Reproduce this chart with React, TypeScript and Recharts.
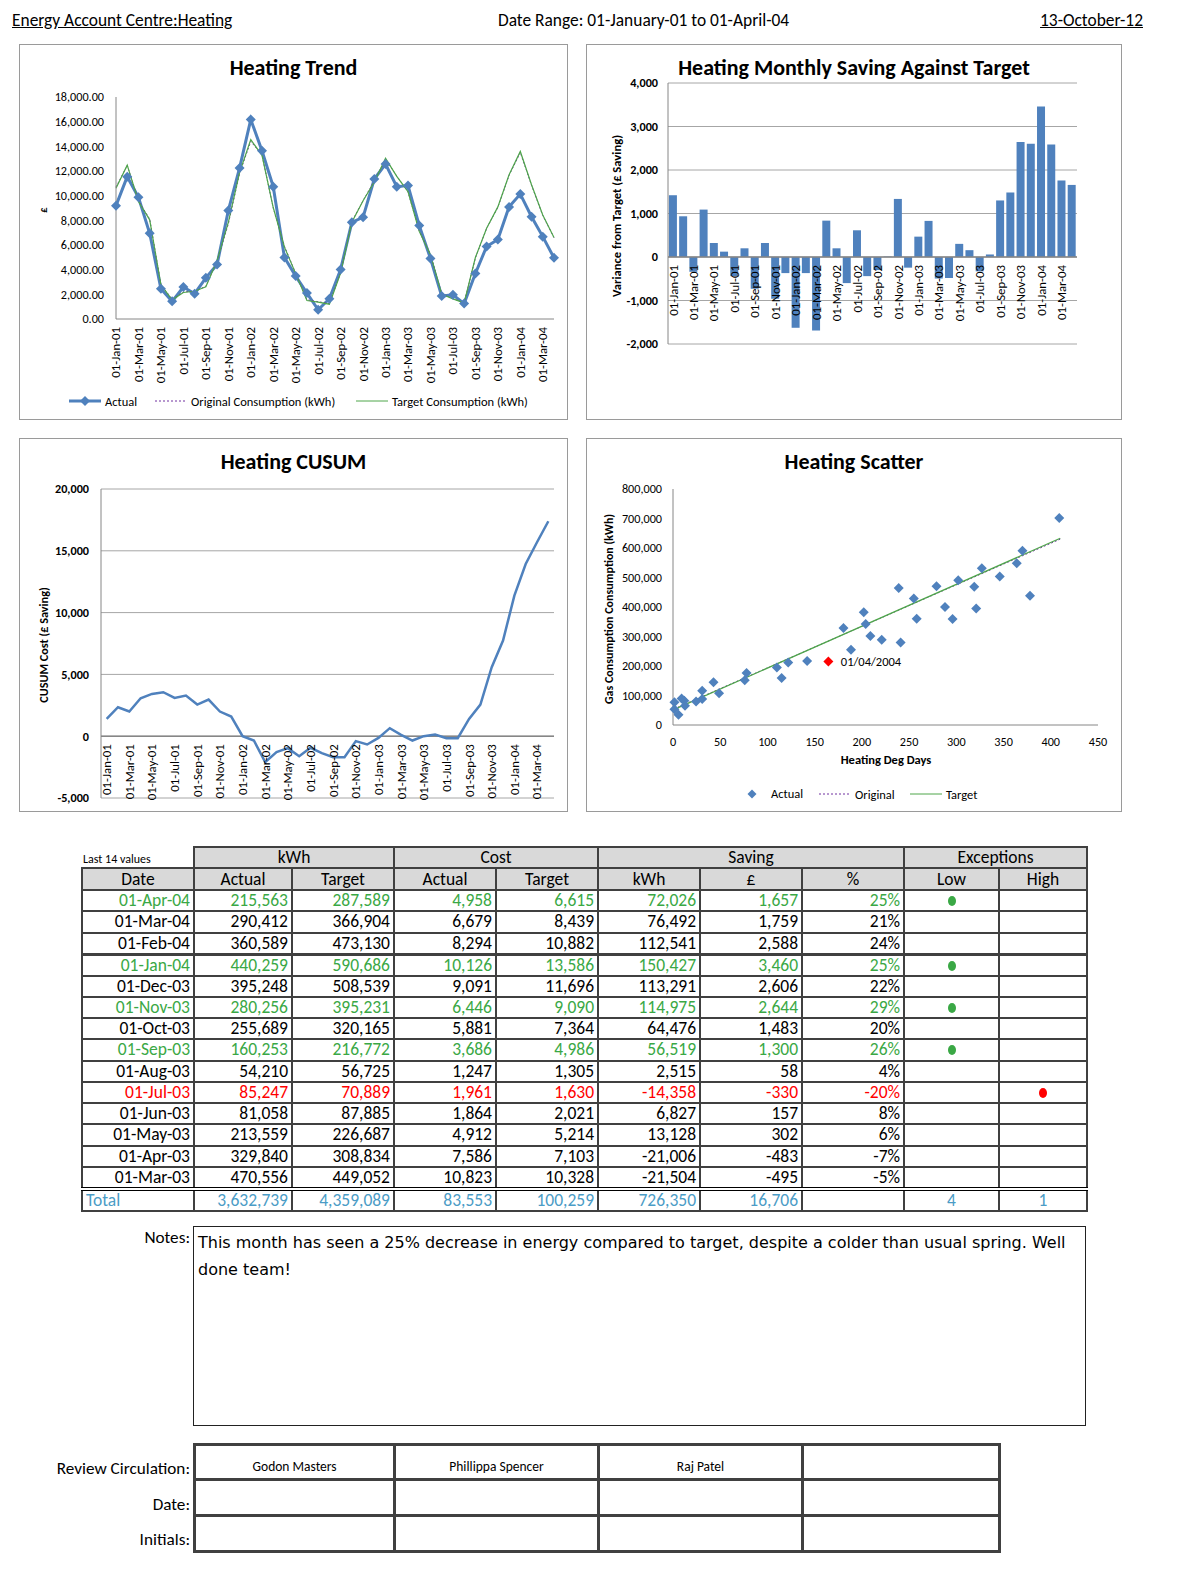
import React from "react";
import {
  LineChart,
  Line,
  BarChart,
  Bar,
  ScatterChart,
  Scatter,
  XAxis,
  YAxis,
  CartesianGrid,
  ReferenceLine,
  LabelList,
} from "recharts";

const FONT = 'Carlito, Calibri, "Liberation Sans Narrow", "Open Sans", sans-serif';
const BLUE = "#4f81bd";
const GREEN = "#4ea64a";
const PURPLE = "#7030a0";
const TXT_GREEN = "#3aa845";
const TXT_RED = "#ff0000";
const TXT_TEAL = "#4b9cc6";
const AXIS = "#868686";
const GRID = "#a6a6a6";

// monthly series, Jan-01 .. Apr-04
const months = [
  "01-Jan-01", "01-Feb-01", "01-Mar-01", "01-Apr-01", "01-May-01", "01-Jun-01",
  "01-Jul-01", "01-Aug-01", "01-Sep-01", "01-Oct-01", "01-Nov-01", "01-Dec-01",
  "01-Jan-02", "01-Feb-02", "01-Mar-02", "01-Apr-02", "01-May-02", "01-Jun-02",
  "01-Jul-02", "01-Aug-02", "01-Sep-02", "01-Oct-02", "01-Nov-02", "01-Dec-02",
  "01-Jan-03", "01-Feb-03", "01-Mar-03", "01-Apr-03", "01-May-03", "01-Jun-03",
  "01-Jul-03", "01-Aug-03", "01-Sep-03", "01-Oct-03", "01-Nov-03", "01-Dec-03",
  "01-Jan-04", "01-Feb-04", "01-Mar-04", "01-Apr-04",
];
const actualCost = [
  9190, 11540, 9870, 6950, 2450, 1430, 2590, 2050, 3340, 4420, 8790, 12240,
  16170, 13640, 10730, 4990, 3480, 2100, 750, 1640, 4020, 7840, 8250, 11350,
  12560, 10730, 10823, 7586, 4912, 1864, 1961, 1247, 3686, 5881, 6446, 9091,
  10126, 8294, 6679, 4958,
];
const originalCost = [
  10700, 12450, 9600, 8100, 2800, 1600, 2200, 2250, 2650, 4700, 7700, 11800,
  14400, 13300, 9000, 5900, 3700, 1550, 1400, 1250, 3750, 7900, 9600, 11200,
  12950, 11600, 10300, 7150, 5250, 2050, 1650, 1300, 4950, 7350, 9050, 11650,
  13500, 10850, 8400, 6600,
];
const targetCost = [
  10610, 12476, 9530, 8040, 2772, 1553, 2150, 2250, 2610, 4742, 7830, 11870,
  14543, 13270, 9040, 5826, 3680, 1500, 1364, 1200, 3720, 7850, 9585, 11105,
  13028, 11560, 10328, 7103, 5214, 2021, 1630, 1305, 4986, 7364, 9090, 11696,
  13586, 10882, 8439, 6615,
];
const monthlySaving = [
  1420, 936, -340, 1090, 322, 123, -440, 200, -730, 322, -960, -370,
  -1627, -370, -1690, 836, 200, -600, 614, -440, -300, 10, 1335, -245,
  468, 830, -495, -483, 302, 157, -330, 58, 1300, 1483, 2644, 2606,
  3460, 2588, 1759, 1657,
];
const cusum = [
  1400, 2345, 1995, 3070, 3420, 3560, 3100, 3290, 2560, 2965, 1995, 1590,
  0, -350, -2100, -1290, -970, -1620, -940, -1375, -1700, -1700, -400, -670,
  -135, 650, 110, -350, 0, 135, -160, -160, 1400, 2560, 5580, 7740,
  11370, 13930, 15690, 17390,
];

const trendTicks = [0, 2000, 4000, 6000, 8000, 10000, 12000, 14000, 16000, 18000];
const savingTicks = [-2000, -1000, 0, 1000, 2000, 3000, 4000];
const cusumTicks = [-5000, 0, 5000, 10000, 15000, 20000];

// scatter: heating degree days vs kWh
const scatterDegDays = [
  1.5, 1.5, 5.8, 9.1, 12, 12.7, 24.4, 30.9, 30.9, 42.9, 48.8, 76, 77.9, 110,
  115, 122, 142, 180.5, 188.5, 202, 204, 209, 221, 239, 241, 255, 258, 279,
  288, 296, 302, 319, 321, 327, 346, 364, 370, 378, 409,
];
const scatterKwh = [
  76800, 53000, 35000, 90000, 82000, 65500, 80000, 116000, 88000, 145000,
  108000, 152000, 176000, 195000, 159000, 212000, 217000, 329000, 255000,
  382000, 342000, 302000, 289000, 464000, 280000, 429000, 360000, 470000,
  400000, 359000, 491000, 469000, 395000, 531000, 503000, 548000, 591000,
  438000, 702000,
];
const latestPoint = [{ x: 164.5, y: 215563, label: "01/04/2004" }];
const originalFit = [{ x: 5, y: 60000 }, { x: 410, y: 630000 }];
const targetFit = [{ x: 5, y: 58000 }, { x: 410, y: 633000 }];
const degTicks = [0, 50, 100, 150, 200, 250, 300, 350, 400, 450];
const kwhTicks = [0, 100000, 200000, 300000, 400000, 500000, 600000, 700000, 800000];

// table, last 14 values
const tblDates = ["01-Apr-04", "01-Mar-04", "01-Feb-04", "01-Jan-04", "01-Dec-03", "01-Nov-03", "01-Oct-03", "01-Sep-03", "01-Aug-03", "01-Jul-03", "01-Jun-03", "01-May-03", "01-Apr-03", "01-Mar-03"];
const tblKwhActual = [215563, 290412, 360589, 440259, 395248, 280256, 255689, 160253, 54210, 85247, 81058, 213559, 329840, 470556];
const tblKwhTarget = [287589, 366904, 473130, 590686, 508539, 395231, 320165, 216772, 56725, 70889, 87885, 226687, 308834, 449052];
const tblCostActual = [4958, 6679, 8294, 10126, 9091, 6446, 5881, 3686, 1247, 1961, 1864, 4912, 7586, 10823];
const tblCostTarget = [6615, 8439, 10882, 13586, 11696, 9090, 7364, 4986, 1305, 1630, 2021, 5214, 7103, 10328];
const tblSaveKwh = [72026, 76492, 112541, 150427, 113291, 114975, 64476, 56519, 2515, -14358, 6827, 13128, -21006, -21504];
const tblSaveGbp = [1657, 1759, 2588, 3460, 2606, 2644, 1483, 1300, 58, -330, 157, 302, -483, -495];
const tblSavePct = [25, 21, 24, 25, 22, 29, 20, 26, 4, -20, 8, 6, -7, -5];
const tblFlag = ["low", "", "", "low", "", "low", "", "low", "", "high", "", "", "", ""];
const tblTotals = ["3,632,739", "4,359,089", "83,553", "100,259", "726,350", "16,706"];
const tblExceptionTotals = ["4", "1"];
const reviewers = ["Godon Masters", "Phillippa Spencer", "Raj Patel", ""];

const trendData = months.map((m, i) => ({
  month: m,
  actual: actualCost[i],
  original: originalCost[i],
  target: targetCost[i],
  saving: monthlySaving[i],
  cusum: cusum[i],
}));
const scatterData = scatterDegDays.map((x, i) => ({ x, y: scatterKwh[i] }));

const fmt = (v: number) => v.toLocaleString("en-US");

const Diamond = ({ cx, cy, r, fill }: any) =>
  cx == null || cy == null ? <g /> : (
    <polygon points={`${cx},${cy - r} ${cx + r},${cy} ${cx},${cy + r} ${cx - r},${cy}`} fill={fill} />
  );

const RotTick = ({ x, y, payload, lift = 0 }: any) => (
  <text
    x={x}
    y={y - lift}
    transform={`rotate(-90 ${x} ${y - lift})`}
    textAnchor="end"
    dy="0.35em"
    fontSize={12.8}
    fill="#000"
  >
    {payload.value}
  </text>
);

const Panel = ({ left, top, width, height, title, children }: any) => (
  <div
    style={{
      position: "absolute",
      left,
      top,
      width,
      height,
      border: "1px solid #9a9a9a",
      boxSizing: "border-box",
      fontFamily: FONT,
    }}
  >
    <div
      style={{
        position: "absolute",
        left: 0,
        right: 0,
        top: 9,
        textAlign: "center",
        fontSize: 22,
        lineHeight: "27px",
        fontWeight: "bold",
      }}
    >
      {title}
    </div>
    {children}
  </div>
);

const VLabel = ({ x, y, text, size = 12.5 }: any) => (
  <div
    style={{
      position: "absolute",
      left: x,
      top: y,
      transform: "translate(-50%, -50%) rotate(-90deg)",
      whiteSpace: "nowrap",
      fontSize: size,
      fontWeight: "bold",
    }}
  >
    {text}
  </div>
);

const LegendItem = ({ x, y, kind, color, text }: any) => (
  <div style={{ position: "absolute", left: x, top: y - 8, height: 16, display: "flex", alignItems: "center", fontSize: 12.5, whiteSpace: "nowrap" }}>
    <svg width={32} height={12} style={{ marginRight: 4 }}>
      {kind === "lineDiamond" && (
        <>
          <line x1={0} y1={6} x2={32} y2={6} stroke={color} strokeWidth={3} />
          <polygon points="16,1 21,6 16,11 11,6" fill={color} />
        </>
      )}
      {kind === "dotted" && <line x1={0} y1={6} x2={32} y2={6} stroke={color} strokeWidth={1} strokeDasharray="2 2" />}
      {kind === "line" && <line x1={0} y1={6} x2={32} y2={6} stroke={color} strokeWidth={1} />}
      {kind === "diamond" && <polygon points="16,1.5 20.5,6 16,10.5 11.5,6" fill={color} />}
    </svg>
    {text}
  </div>
);

function TrendChart() {
  return (
    <Panel left={19} top={44} width={549} height={376} title="Heating Trend">
      <div style={{ position: "absolute", left: 0, top: 0 }}>
        <LineChart width={547} height={374} data={trendData} margin={{ top: 52, right: 13, bottom: 40, left: 0 }}>
          <XAxis
            dataKey="month"
            interval={1}
            height={60}
            tickSize={0}
            tickMargin={8}
            tickLine={false}
            axisLine={{ stroke: AXIS }}
            tick={(p: any) => <RotTick key={p.index} {...p} />}
          />
          <YAxis
            width={96}
            domain={[0, 18000]}
            ticks={trendTicks}
            tickFormatter={(v: number) => v.toLocaleString("en-US", { minimumFractionDigits: 2 })}
            tickLine={false}
            tickSize={0}
            tickMargin={12}
            axisLine={{ stroke: AXIS }}
            tick={{ fontSize: 12.2, fill: "#000" }}
          />
          <Line
            dataKey="actual"
            stroke={BLUE}
            strokeWidth={3}
            dot={(p: any) => <Diamond key={p.index} cx={p.cx} cy={p.cy} r={5} fill={BLUE} />}
            activeDot={false}
            isAnimationActive={false}
          />
          <Line dataKey="original" stroke={PURPLE} strokeWidth={1} strokeDasharray="2 2" dot={false} activeDot={false} isAnimationActive={false} />
          <Line dataKey="target" stroke={GREEN} strokeWidth={1.2} dot={false} activeDot={false} isAnimationActive={false} />
        </LineChart>
      </div>
      <VLabel x={23} y={165} text="£" size={10.5} />
      <LegendItem x={49} y={356} kind="lineDiamond" color={BLUE} text="Actual" />
      <LegendItem x={135} y={356} kind="dotted" color={PURPLE} text="Original Consumption (kWh)" />
      <LegendItem x={336} y={356} kind="line" color={GREEN} text="Target Consumption (kWh)" />
    </Panel>
  );
}

function SavingChart() {
  const top = 38;
  const bottom = 55;
  const xh = 20;
  const plotH = 374 - top - bottom - xh;
  const lift = (plotH * 2000) / 6000 - 8;
  return (
    <Panel left={586} top={44} width={536} height={376} title="Heating Monthly Saving Against Target">
      <div style={{ position: "absolute", left: 0, top: 0 }}>
        <BarChart width={534} height={374} data={trendData} margin={{ top, right: 44, bottom, left: 0 }} barCategoryGap="9%">
          <CartesianGrid vertical={false} stroke={GRID} />
          <YAxis
            width={81}
            domain={[-2000, 4000]}
            ticks={savingTicks}
            tickFormatter={fmt}
            tickLine={false}
            tickSize={0}
            tickMargin={10}
            axisLine={{ stroke: AXIS }}
            tick={{ fontSize: 12.2, fill: "#000", fontWeight: "bold" }}
          />
          <Bar dataKey="saving" fill={BLUE} isAnimationActive={false} />
          <ReferenceLine y={0} stroke={AXIS} strokeWidth={1.5} />
          <XAxis
            dataKey="month"
            interval={1}
            height={xh}
            tickSize={0}
            tickMargin={0}
            tickLine={false}
            axisLine={false}
            tick={(p: any) => <RotTick key={p.index} {...p} lift={lift} />}
          />
        </BarChart>
      </div>
      <VLabel x={29} y={171} text="Variance from Target (£ Saving)" size={12.6} />
    </Panel>
  );
}

function CusumChart() {
  const top = 50;
  const bottom = 3;
  const xh = 10;
  const plotH = 372 - top - bottom - xh;
  const lift = (plotH * 5000) / 25000 - 8;
  return (
    <Panel left={19} top={438} width={549} height={374} title="Heating CUSUM">
      <div style={{ position: "absolute", left: 0, top: 0 }}>
        <LineChart width={547} height={372} data={trendData} margin={{ top, right: 13, bottom, left: 0 }}>
          <CartesianGrid vertical={false} stroke={GRID} />
          <YAxis
            width={81}
            domain={[-5000, 20000]}
            ticks={cusumTicks}
            tickFormatter={fmt}
            tickLine={false}
            tickSize={0}
            tickMargin={12}
            axisLine={{ stroke: AXIS }}
            tick={{ fontSize: 12.2, fill: "#000", fontWeight: "bold" }}
          />
          <ReferenceLine y={0} stroke={AXIS} strokeWidth={1.5} />
          <Line dataKey="cusum" stroke={BLUE} strokeWidth={2.5} dot={false} activeDot={false} isAnimationActive={false} />
          <XAxis
            dataKey="month"
            scale="band"
            interval={1}
            height={xh}
            tickSize={0}
            tickMargin={0}
            tickLine={false}
            axisLine={false}
            tick={(p: any) => <RotTick key={p.index} {...p} lift={lift} />}
          />
        </LineChart>
      </div>
      <VLabel x={23} y={206} text="CUSUM Cost (£ Saving)" size={12.2} />
    </Panel>
  );
}

function ScatterPanel() {
  return (
    <Panel left={586} top={438} width={536} height={374} title="Heating Scatter">
      <div style={{ position: "absolute", left: 0, top: 0 }}>
        <ScatterChart width={534} height={372} margin={{ top: 50, right: 23, bottom: 56, left: 0 }}>
          <XAxis
            type="number"
            dataKey="x"
            domain={[0, 450]}
            ticks={degTicks}
            height={30}
            tickLine={false}
            tickSize={5}
            tickMargin={7}
            axisLine={{ stroke: AXIS }}
            tick={{ fontSize: 12.2, fill: "#000" }}
          />
          <YAxis
            type="number"
            dataKey="y"
            domain={[0, 800000]}
            ticks={kwhTicks}
            tickFormatter={fmt}
            width={86}
            tickLine={false}
            tickSize={0}
            tickMargin={11}
            axisLine={{ stroke: AXIS }}
            tick={{ fontSize: 12.2, fill: "#000" }}
          />
          <Scatter data={originalFit} line={{ stroke: PURPLE, strokeWidth: 1, strokeDasharray: "2 2" }} shape={() => <g />} isAnimationActive={false} />
          <Scatter data={targetFit} line={{ stroke: GREEN, strokeWidth: 1.2 }} shape={() => <g />} isAnimationActive={false} />
          <Scatter
            data={scatterData}
            shape={(p: any) => <Diamond cx={p.cx} cy={p.cy} r={5} fill={BLUE} />}
            isAnimationActive={false}
          />
          <Scatter
            data={latestPoint}
            shape={(p: any) => <Diamond cx={p.cx} cy={p.cy} r={5} fill="#ff0000" />}
            isAnimationActive={false}
          >
            <LabelList dataKey="label" position="right" offset={8} fontSize={12.5} fill="#000" />
          </Scatter>
        </ScatterChart>
      </div>
      <VLabel x={22} y={170} text="Gas Consumption Consumption (kWh)" size={12} />
      <div style={{ position: "absolute", left: 299, top: 320, transform: "translate(-50%, -50%)", fontSize: 12.5, fontWeight: "bold", whiteSpace: "nowrap" }}>
        Heating Deg Days
      </div>
      <LegendItem x={149} y={355} kind="diamond" color={BLUE} text="" />
      <div style={{ position: "absolute", left: 184, top: 347, fontSize: 12.5, lineHeight: "16px" }}>Actual</div>
      <LegendItem x={232} y={355} kind="dotted" color={PURPLE} text="Original" />
      <LegendItem x={323} y={355} kind="line" color={GREEN} text="Target" />
    </Panel>
  );
}

const colW = [112, 98, 102, 102, 102, 102, 102, 102, 95, 88];
const BORDER = "2px solid #404040";

function DataTable() {
  const cell = (extra: any = {}) => ({
    border: BORDER,
    padding: "0 3px",
    textAlign: "right" as const,
    whiteSpace: "nowrap" as const,
    overflow: "hidden",
    ...extra,
  });
  const head = (extra: any = {}) => cell({ background: "#d9d9d9", textAlign: "center", ...extra });
  return (
    <table
      style={{
        position: "absolute",
        left: 81,
        top: 846,
        borderCollapse: "collapse",
        tableLayout: "fixed",
        width: colW.reduce((a, b) => a + b, 0),
        fontFamily: FONT,
        fontSize: 17.5,
        lineHeight: "19px",
      }}
    >
      <colgroup>
        {colW.map((w, i) => (
          <col key={i} style={{ width: w }} />
        ))}
      </colgroup>
      <tbody>
        <tr style={{ height: 20 }}>
          <td style={{ fontSize: 12, lineHeight: "12px", padding: "4px 1px 0", verticalAlign: "middle", borderBottom: BORDER, whiteSpace: "nowrap" }}>
            Last 14 values
          </td>
          <td colSpan={2} style={head()}>kWh</td>
          <td colSpan={2} style={head()}>Cost</td>
          <td colSpan={3} style={head()}>Saving</td>
          <td colSpan={2} style={head()}>Exceptions</td>
        </tr>
        <tr style={{ height: 22 }}>
          {["Date", "Actual", "Target", "Actual", "Target", "kWh", "£", "%", "Low", "High"].map((h, i) => (
            <td key={i} style={head()}>{h}</td>
          ))}
        </tr>
        {tblDates.map((d, i) => {
          const color = tblFlag[i] === "low" ? TXT_GREEN : tblFlag[i] === "high" ? TXT_RED : "#000";
          const extra: any = { color };
          if (i === 3) extra.borderTop = "3px solid #404040";
          const vals = [d, fmt(tblKwhActual[i]), fmt(tblKwhTarget[i]), fmt(tblCostActual[i]), fmt(tblCostTarget[i]), fmt(tblSaveKwh[i]), fmt(tblSaveGbp[i]), tblSavePct[i] + "%"];
          return (
            <tr key={d} style={{ height: 21.25 }}>
              {vals.map((v, j) => (
                <td key={j} style={cell(extra)}>{v}</td>
              ))}
              <td style={cell({ ...extra, textAlign: "center" })}>
                {tblFlag[i] === "low" && <span style={{ display: "inline-block", width: 8, height: 10, borderRadius: "50%", background: TXT_GREEN }} />}
              </td>
              <td style={cell({ ...extra, textAlign: "center" })}>
                {tblFlag[i] === "high" && <span style={{ display: "inline-block", width: 8, height: 10, borderRadius: "50%", background: TXT_RED }} />}
              </td>
            </tr>
          );
        })}
        <tr style={{ height: 22 }}>
          <td style={cell({ color: TXT_TEAL, textAlign: "left", borderTop: "4px double #000" })}>Total</td>
          {tblTotals.map((v, j) => (
            <td key={j} style={cell({ color: TXT_TEAL, borderTop: "4px double #000" })}>{v}</td>
          ))}
          <td style={cell({ borderTop: "4px double #000" })} />
          {tblExceptionTotals.map((v, j) => (
            <td key={j} style={cell({ color: TXT_TEAL, textAlign: "center", borderTop: "4px double #000" })}>{v}</td>
          ))}
        </tr>
      </tbody>
    </table>
  );
}

function ReviewTable() {
  const b = "3px solid #404040";
  const widths = [200, 204, 204, 197];
  const rowH = [35, 36, 36];
  return (
    <table
      style={{
        position: "absolute",
        left: 193,
        top: 1443,
        borderCollapse: "collapse",
        tableLayout: "fixed",
        width: widths.reduce((a, c) => a + c, 0),
        fontFamily: FONT,
      }}
    >
      <colgroup>
        {widths.map((w, i) => (
          <col key={i} style={{ width: w }} />
        ))}
      </colgroup>
      <tbody>
        {rowH.map((h, r) => (
          <tr key={r} style={{ height: h }}>
            {widths.map((_, c) => (
              <td key={c} style={{ border: b, textAlign: "center", verticalAlign: "bottom", fontSize: 13.5, padding: "0 0 3px" }}>
                {r === 0 ? reviewers[c] : ""}
              </td>
            ))}
          </tr>
        ))}
      </tbody>
    </table>
  );
}

const RightLabel = ({ y, text }: any) => (
  <div style={{ position: "absolute", right: 1184 - 190, top: y - 10, fontSize: 17.2, lineHeight: "20px", whiteSpace: "nowrap" }}>{text}</div>
);

export default function App() {
  const head = { position: "absolute" as const, top: 10, fontSize: 17.4, lineHeight: "20px", whiteSpace: "nowrap" as const };
  return (
    <div
      style={{
        position: "absolute",
        left: 0,
        top: 0,
        width: 1184,
        height: 1581,
        background: "#fff",
        fontFamily: FONT,
        color: "#000",
        overflow: "hidden",
      }}
    >
      <div style={{ ...head, left: 12, textDecoration: "underline" }}>Energy Account Centre:Heating</div>
      <div style={{ ...head, left: 498 }}>Date Range: 01-January-01 to 01-April-04</div>
      <div style={{ ...head, right: 1184 - 1143, textDecoration: "underline" }}>13-October-12</div>

      <TrendChart />
      <SavingChart />
      <CusumChart />
      <ScatterPanel />

      <DataTable />

      <RightLabel y={1238} text="Notes:" />
      <div
        style={{
          position: "absolute",
          left: 193,
          top: 1226,
          width: 893,
          height: 200,
          border: "1px solid #222",
          boxSizing: "border-box",
          padding: "2px 4px",
          fontFamily: '"DejaVu Sans", sans-serif',
          fontSize: 16,
          lineHeight: "27px",
        }}
      >
        This month has seen a 25% decrease in energy compared to target, despite a colder than usual spring. Well done team!
      </div>

      <RightLabel y={1469} text="Review Circulation:" />
      <RightLabel y={1505} text="Date:" />
      <RightLabel y={1540} text="Initials:" />
      <ReviewTable />
    </div>
  );
}
